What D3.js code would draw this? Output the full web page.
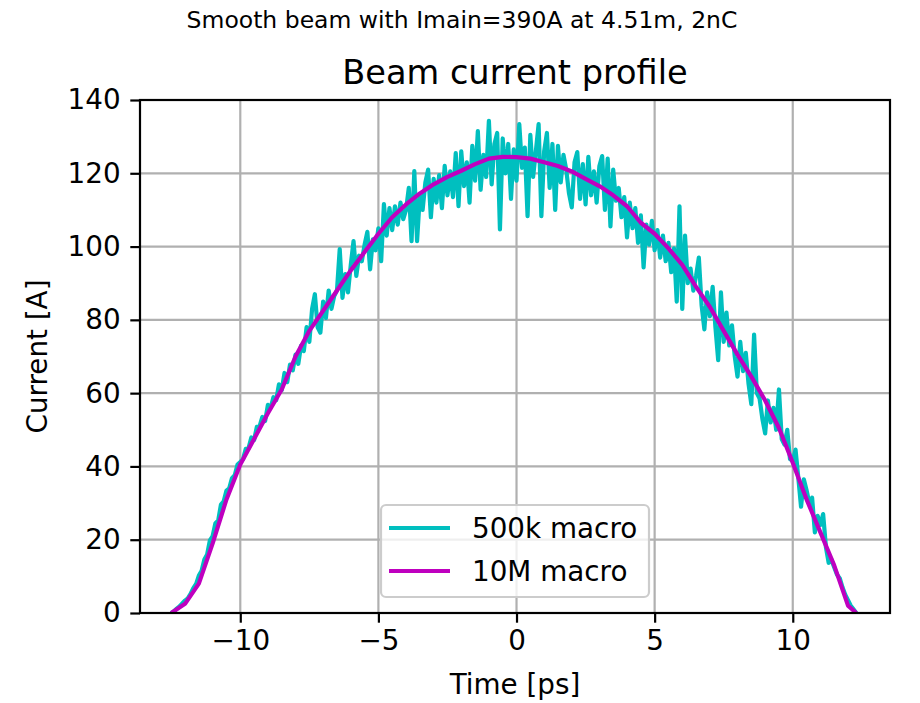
<!DOCTYPE html>
<html>
<head>
<meta charset="utf-8">
<script src="https://cdn.jsdelivr.net/npm/d3@7"></script>
<style>
  body { margin: 0; background: #fff; }
  svg { display: block; font-family: "DejaVu Sans", sans-serif; }
</style>
</head>
<body>
<svg id="chart" width="920" height="703"></svg>
<script>
// current profile, 500k macro particles (noisy), sampled every 0.1 ps from -12.5 ps
const noisyStart = -12.5;
const noisyStep = 0.1;
const noisyCurrent = [
  0, 0.5, 1.2, 1.8, 2.6, 3.4, 4.0, 5.2, 6.8, 7.9,            // -12.5 .. -11.6
  10.2, 11.5, 14.6, 16.0, 19.8, 21.0, 24.5, 25.2, 29.6, 30.5, // -11.5 .. -10.6
  33.4, 34.0, 36.8, 37.6, 40.5, 41.2, 42.0, 44.8, 45.0, 47.9, // -10.5 .. -9.6
  47.2, 50.8, 51.0, 53.5, 52.4, 56.8, 56.0, 58.9, 58.1, 62.4, // -9.5 .. -8.6
  60.8, 65.5, 63.0, 67.8, 66.2, 70.5, 68.0, 73.0, 71.5, 78.0, // -8.5 .. -7.6
  74.0, 83.0, 87.0, 78.0, 76.5, 85.0, 80.5, 88.0, 83.0, 86.5, // -7.5 .. -6.6
  88.0, 99.3, 86.0, 92.5, 87.5, 95.0, 101.5, 92.0, 97.5, 96.0, // -6.5 .. -5.6
  100.5, 104.0, 93.8, 102.0, 99.0, 105.0, 96.0, 111.6, 103.0, 110.5, // -5.5 .. -4.6
  104.5, 111.0, 106.0, 112.0, 107.5, 110.0, 116.0, 101.5, 120.6, 101.5, // -4.5 .. -3.6
  114.0, 110.0, 117.5, 121.0, 108.0, 118.5, 112.0, 119.5, 110.5, 122.0, // -3.5 .. -2.6
  114.0, 120.5, 113.5, 125.5, 111.0, 126.0, 116.5, 123.0, 112.0, 127.5, // -2.5 .. -1.6
  118.0, 131.5, 115.5, 125.0, 119.0, 134.3, 117.0, 128.0, 131.0, 104.7, // -1.5 .. -0.6
  129.5, 120.0, 128.0, 113.0, 126.5, 118.0, 133.4, 121.5, 127.0, 108.3, // -0.5 .. 0.4
  130.5, 119.0, 126.0, 133.4, 108.3, 126.0, 131.0, 116.0, 128.0, 110.0, // 0.5 .. 1.4
  127.5, 117.5, 125.0, 121.0, 114.5, 110.7, 123.0, 125.8, 113.0, 122.5, // 1.5 .. 2.4
  111.5, 124.5, 114.0, 120.5, 112.0, 122.0, 124.7, 110.0, 124.0, 105.5, // 2.5 .. 3.4
  121.0, 112.5, 116.0, 108.0, 113.5, 102.5, 112.0, 105.0, 110.5, 101.0, // 3.5 .. 4.4
  108.5, 94.3, 106.0, 100.5, 107.0, 99.0, 104.5, 97.0, 103.0, 96.0,    // 4.5 .. 5.4
  101.0, 93.0, 99.5, 85.0, 111.0, 83.0, 103.0, 90.0, 94.0, 88.0,       // 5.5 .. 6.4
  92.0, 97.0, 84.0, 77.4, 87.5, 81.0, 89.0, 78.0, 69.0, 87.5,          // 6.5 .. 7.4
  74.0, 82.0, 73.0, 78.5, 70.0, 64.5, 74.0, 66.0, 71.0, 62.5,          // 7.5 .. 8.4
  57.0, 76.0, 60.0, 58.5, 53.0, 49.0, 58.0, 52.0, 56.0, 50.0,          // 8.5 .. 9.4
  61.0, 47.5, 46.0, 50.0, 42.0, 41.5, 44.6, 37.0, 29.0, 36.5,          // 9.5 .. 10.4
  33.5, 30.0, 31.5, 22.0, 26.5, 24.0, 27.0, 18.0, 13.7, 14.5,          // 10.5 .. 11.4
  12.5, 10.5, 9.5, 7.0, 5.0, 3.5, 2.0, 1.0, 0                          // 11.5 .. 12.3
];

// 10M macro particles (smooth), every 0.5 ps
const smoothTime = [
  -12.5, -12, -11.5, -11, -10.5, -10, -9.5, -9, -8.5, -8, -7.5, -7, -6.5, -6, -5.5, -5,
  -4.5, -4, -3.5, -3, -2.5, -2, -1.5, -1, -0.5, 0, 0.5, 1, 1.5, 2, 2.5, 3, 3.5, 4, 4.5,
  5, 5.5, 6, 6.5, 7, 7.5, 8, 8.5, 9, 9.5, 10, 10.5, 11, 11.5, 12, 12.3
];
const smoothCurrent = [
  0, 2.5, 8, 19, 31, 40.5, 47.5, 54.5, 61, 70, 77, 82.5, 88, 93.5, 98.5, 103.5,
  108, 111.5, 114.5, 117, 119, 120.7, 122.5, 124, 124.5, 124.4, 124, 123, 122, 120.5, 118.5, 116.5, 114, 111, 106.5,
  103.5, 99.5, 95, 89, 83.5, 77, 70.5, 64.5, 58, 50.5, 41, 31, 22, 13, 2, 0
];

const xTicks = [-10, -5, 0, 5, 10];
const yTicks = [0, 20, 40, 60, 80, 100, 120, 140];

const series = [
  { name: "500k macro", color: "#00bfbf",
    points: noisyCurrent.map((v, i) => [noisyStart + i * noisyStep, v]) },
  { name: "10M macro", color: "#bf00bf",
    points: smoothCurrent.map((v, i) => [smoothTime[i], v]) }
];

const svg = d3.select("#chart");
const plotL = 140, plotR = 890, plotT = 100, plotB = 613;
const fs = 27.8; // tick / label / legend font size

const x = d3.scaleLinear().domain([-13.63, 13.52]).range([plotL, plotR]);
const y = d3.scaleLinear().domain([0, 140]).range([plotB, plotT]);

// grid
const grid = svg.append("g").attr("stroke", "#b0b0b0").attr("stroke-width", 2.2);
grid.selectAll(".gx").data(xTicks).join("line")
  .attr("x1", d => x(d)).attr("x2", d => x(d))
  .attr("y1", plotT).attr("y2", plotB);
grid.selectAll(".gy").data(yTicks).join("line")
  .attr("x1", plotL).attr("x2", plotR)
  .attr("y1", d => y(d)).attr("y2", d => y(d));

svg.append("clipPath").attr("id", "clip")
  .append("rect").attr("x", plotL).attr("y", plotT)
  .attr("width", plotR - plotL).attr("height", plotB - plotT);

const line = d3.line().x(d => x(d[0])).y(d => y(d[1]));

svg.append("g").attr("clip-path", "url(#clip)")
  .selectAll("path").data(series).join("path")
  .attr("d", d => line(d.points))
  .attr("fill", "none")
  .attr("stroke", d => d.color)
  .attr("stroke-width", 4.2)
  .attr("stroke-linejoin", "round")
  .attr("stroke-linecap", "butt");

// axes
const xAxis = svg.append("g").attr("transform", `translate(0,${plotB})`)
  .call(d3.axisBottom(x).tickValues(xTicks).tickSize(9.7).tickPadding(8)
    .tickFormat(d => d < 0 ? "\u2212" + Math.abs(d) : d));
const yAxis = svg.append("g").attr("transform", `translate(${plotL},0)`)
  .call(d3.axisLeft(y).tickValues(yTicks).tickSize(9.7).tickPadding(9.7));

[xAxis, yAxis].forEach(g => {
  g.select(".domain").remove();
  g.selectAll(".tick line").attr("stroke", "#000").attr("stroke-width", 2.2);
  g.selectAll(".tick text").attr("fill", "#000")
    .attr("font-family", "DejaVu Sans").attr("font-size", fs);
});

// frame
svg.append("rect").attr("x", plotL).attr("y", plotT)
  .attr("width", plotR - plotL).attr("height", plotB - plotT)
  .attr("fill", "none").attr("stroke", "#000").attr("stroke-width", 2.2);

// texts
svg.append("text").attr("x", 462).attr("y", 28)
  .attr("text-anchor", "middle").attr("font-size", 23.5)
  .text("Smooth beam with Imain=390A at 4.51m, 2nC");
svg.append("text").attr("x", 515).attr("y", 84)
  .attr("text-anchor", "middle").attr("font-size", 33.6)
  .text("Beam current profile");
svg.append("text").attr("x", 515).attr("y", 694)
  .attr("text-anchor", "middle").attr("font-size", fs)
  .text("Time [ps]");
svg.append("text")
  .attr("transform", `translate(47,${(plotT + plotB) / 2}) rotate(-90)`)
  .attr("text-anchor", "middle").attr("font-size", fs)
  .text("Current [A]");

// legend
const legend = svg.append("g");
legend.append("rect")
  .attr("x", 381).attr("y", 505).attr("width", 268).attr("height", 92)
  .attr("rx", 5).attr("fill", "#fff").attr("fill-opacity", 0.8)
  .attr("stroke", "#cccccc").attr("stroke-width", 2.2);
const item = legend.selectAll(".item").data(series).join("g")
  .attr("transform", (d, i) => `translate(0,${528 + i * 43})`);
item.append("line").attr("x1", 389).attr("x2", 450)
  .attr("stroke", d => d.color).attr("stroke-width", 4.2);
item.append("text").attr("x", 472).attr("dy", "0.35em")
  .attr("font-size", fs).text(d => d.name);
</script>
</body>
</html>
